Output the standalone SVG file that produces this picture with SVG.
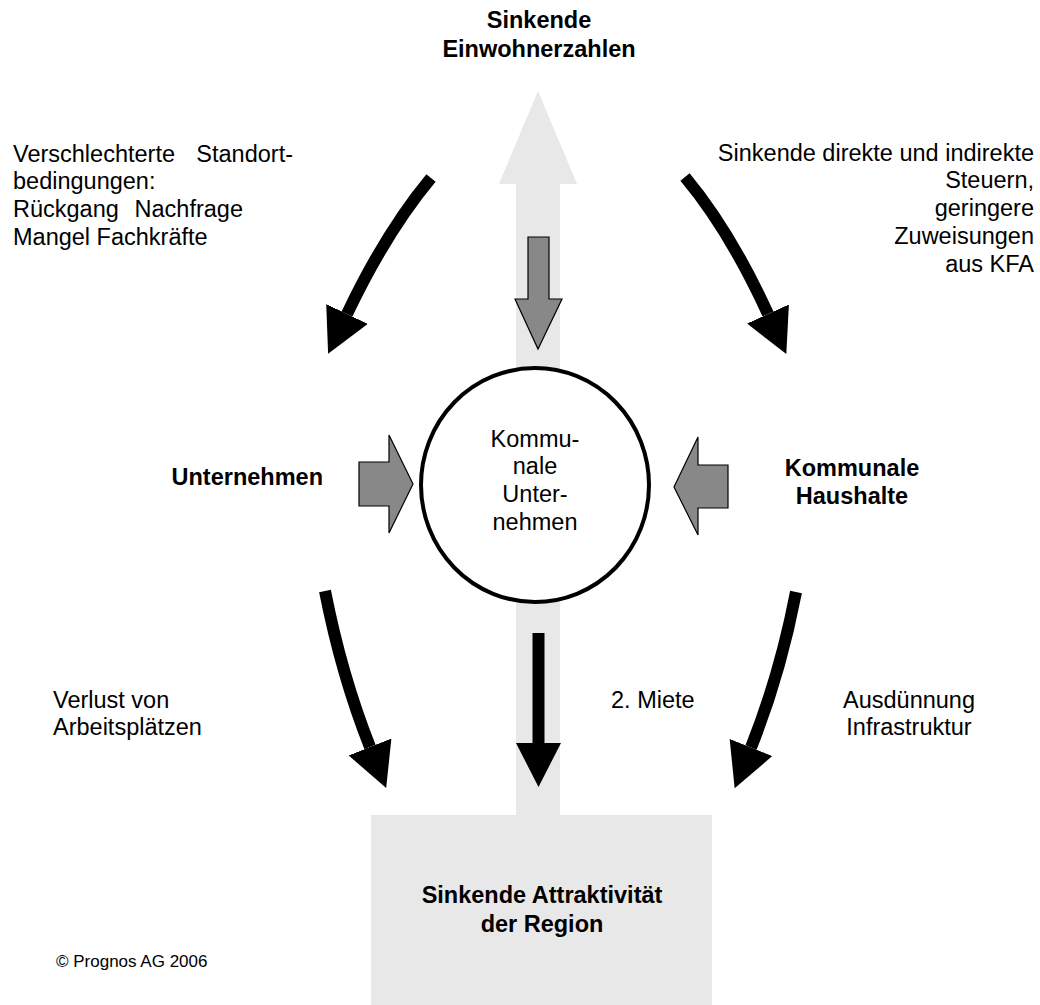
<svg xmlns="http://www.w3.org/2000/svg" width="1040" height="1005" viewBox="0 0 1040 1005">
<style>
text{font-family:"Liberation Sans",Arial,sans-serif;font-size:23.5px;fill:#000}
.b{font-weight:bold}
.c{text-anchor:middle}
.e{text-anchor:end}
.light{fill:#e8e8e8;stroke:none}
.gray{fill:#888888;stroke:#000;stroke-width:1.2}
.curve{fill:none;stroke:#000;stroke-width:12}
</style>
<defs>
<marker id="ah" markerUnits="userSpaceOnUse" viewBox="0 0 44 46" markerWidth="44" markerHeight="46" refX="0" refY="23" orient="auto">
<path d="M0,0 L44,23 L0,46 Z" fill="#000"/>
</marker>
</defs>
<rect width="1040" height="1005" fill="#fff"/>

<g id="background-flow">
<path class="light" d="M516,815 L516,184 L499,184 L538,91 L577,184 L560,184 L560,815 Z"/>
</g>

<g id="node-attraktivitaet">
<rect class="light" x="371" y="815" width="341" height="190"/>
<text class="b c" x="542" y="903">Sinkende Attraktivität</text>
<text class="b c" x="542" y="932">der Region</text>
</g>

<g id="node-einwohner">
<text class="b c" x="539" y="28">Sinkende</text>
<text class="b c" x="539" y="57">Einwohnerzahlen</text>
</g>

<g id="node-kommunale-unternehmen">
<ellipse cx="535" cy="485" rx="114" ry="117" fill="#fff" stroke="#000" stroke-width="4"/>
<text class="c" x="535" y="447">Kommu-</text>
<text class="c" x="535" y="474">nale</text>
<text class="c" x="535" y="502">Unter-</text>
<text class="c" x="535" y="530">nehmen</text>
</g>

<g id="node-unternehmen">
<text class="b e" x="323" y="485">Unternehmen</text>
</g>

<g id="node-haushalte">
<text class="b c" x="852" y="476">Kommunale</text>
<text class="b c" x="852" y="504">Haushalte</text>
</g>

<g id="connectors">
<path class="gray" d="M528,237 L549,237 L549,299 L562,299 L538,349 L515,299 L528,299 Z"/>
<path class="gray" d="M359,462 L389,462 L389,435 L413,484 L389,533 L389,506 L359,506 Z"/>
<path class="gray" d="M728,465 L698,465 L698,437 L674,487 L698,535 L698,508 L728,508 Z"/>
<path class="curve" d="M431,178 Q386,232 347,314" marker-end="url(#ah)"/>
<path class="curve" d="M685,177 Q730,231 768,314" marker-end="url(#ah)"/>
<path class="curve" d="M325,591 Q341.5,675 370,747" marker-end="url(#ah)"/>
<path class="curve" d="M796,592 Q780,675 751,747.5" marker-end="url(#ah)"/>
<path d="M532.5,633 L544.5,633 L544.5,743 L561,743 L538.5,787 L516,743 L532.5,743 Z" fill="#000"/>
</g>

<g id="labels">
<text x="13" y="162">Verschlechterte</text>
<text class="e" x="293" y="162">Standort-</text>
<text x="13" y="189">bedingungen:</text>
<text x="13" y="217">Rückgang</text>
<text class="e" x="243" y="217">Nachfrage</text>
<text x="13" y="245">Mangel Fachkräfte</text>

<text class="e" x="1034" y="161">Sinkende direkte und indirekte</text>
<text class="e" x="1034" y="188">Steuern,</text>
<text class="e" x="1034" y="216">geringere</text>
<text class="e" x="1034" y="244">Zuweisungen</text>
<text class="e" x="1034" y="272">aus KFA</text>

<text x="53" y="708">Verlust von</text>
<text x="53" y="735">Arbeitsplätzen</text>
<text x="611" y="708">2. Miete</text>
<text class="c" x="909" y="708">Ausdünnung</text>
<text class="c" x="909" y="735">Infrastruktur</text>

<text x="56" y="967" style="font-size:17px">© Prognos AG 2006</text>
</g>
</svg>
